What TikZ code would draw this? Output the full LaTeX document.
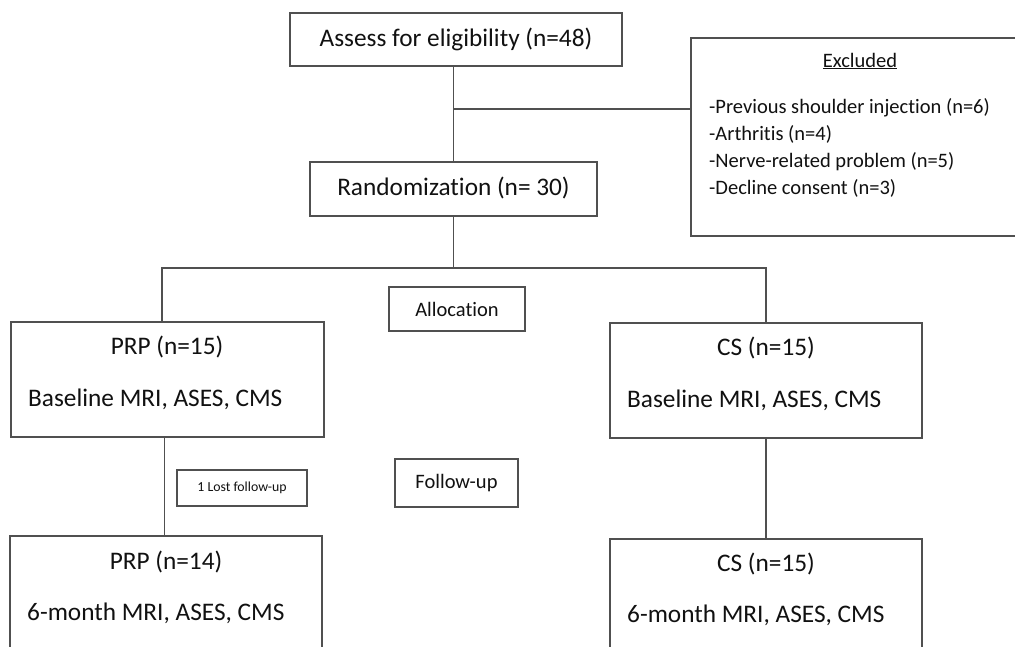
\documentclass[tikz,border=0pt]{standalone}
\usepackage{fontspec}
\setmainfont{Carlito}[Ligatures={NoCommon}]
\definecolor{linec}{HTML}{505050}
\definecolor{textc}{HTML}{111111}
\tikzset{
  boxc/.style={draw=linec, line width=1.4pt, rectangle, inner sep=0pt},
  conn/.style={draw=linec, line width=1.4pt},
  big/.style={text=textc, font=\fontsize{25.3}{30}\selectfont, inner sep=0pt},
  mid/.style={text=textc, font=\fontsize{20.5}{27}\selectfont, inner sep=0pt},
  small/.style={text=textc, font=\fontsize{13.8}{16}\selectfont, inner sep=0pt}
}
\begin{document}
\begin{tikzpicture}[x=1pt,y=-1pt]
\useasboundingbox (0,0) rectangle (1015,647);
\fill[white] (0,0) rectangle (1015,647);
\clip (0,0) rectangle (1015,647);

% boxes
\node[boxc, minimum width=332pt, minimum height=53pt] (assess) at (456,39.5) {};
\node[boxc, minimum width=287pt, minimum height=54pt] (rand) at (453.5,189) {};
\node[boxc, minimum width=339pt, minimum height=198pt] (excl) at (860.5,137) {};
\node[boxc, minimum width=136pt, minimum height=44pt] (alloc) at (457,309) {};
\node[boxc, minimum width=313pt, minimum height=115pt] (prpa) at (167.5,379.5) {};
\node[boxc, minimum width=312pt, minimum height=115pt] (csa) at (766,380.5) {};
\node[boxc, minimum width=130pt, minimum height=36pt] (lost) at (242,488) {};
\node[boxc, minimum width=123pt, minimum height=48pt] (follow) at (456.5,483) {};
\node[boxc, minimum width=312pt, minimum height=130pt] (prpb) at (166,601) {};
\node[boxc, minimum width=312pt, minimum height=130pt] (csb) at (766,604) {};

% texts
\node[big] (assessT) at (456,39.5) {Assess for eligibility (n=48)};
\node[big] (randT) at (453.5,188) {Randomization (n=~30)};
\node[mid] (exclT) at (860,61) {\underline{Excluded}};
\node[mid, anchor=west, align=left] (exclL) at (709,147.5) {-Previous shoulder injection (n=6)\\-Arthritis (n=4)\\-Nerve-related problem (n=5)\\-Decline consent (n=3)};
\node[mid] (allocT) at (457,309) {Allocation};
\node[big] (prpaT) at (167,347) {PRP (n=15)};
\node[big, anchor=west] (prpaB) at (28,399) {Baseline MRI, ASES, CMS};
\node[big] (csaT) at (766,348) {CS (n=15)};
\node[big, anchor=west] (csaB) at (627,400) {Baseline MRI, ASES, CMS};
\node[small] (lostT) at (242,488) {1 Lost follow-up};
\node[mid] (followT) at (456.5,483) {Follow-up};
\node[big] (prpbT) at (166,562) {PRP (n=14)};
\node[big, anchor=west] (prpbB) at (27,613) {6-month MRI, ASES, CMS};
\node[big] (csbT) at (766,564) {CS (n=15)};
\node[big, anchor=west] (csbB) at (627,615) {6-month MRI, ASES, CMS};

% connectors
\coordinate (j1) at (453.5,109);
\coordinate (j2) at (453.5,268);
\draw[conn] (assess.south -| rand.north) -- (rand.north);
\draw[conn] (j1) -- (j1 -| excl.west);
\draw[conn] (rand.south) -- (j2);
\draw[conn] ([xshift=-5.5pt]prpa.north) -- ([xshift=-5.5pt]prpa.north |- j2) -- (csa.north |- j2) -- (csa.north);
\draw[conn] ([xshift=-3pt]prpa.south) -- ([xshift=-3pt]prpa.south |- prpb.north);
\draw[conn] (csa.south) -- (csb.north);
\end{tikzpicture}
\end{document}
